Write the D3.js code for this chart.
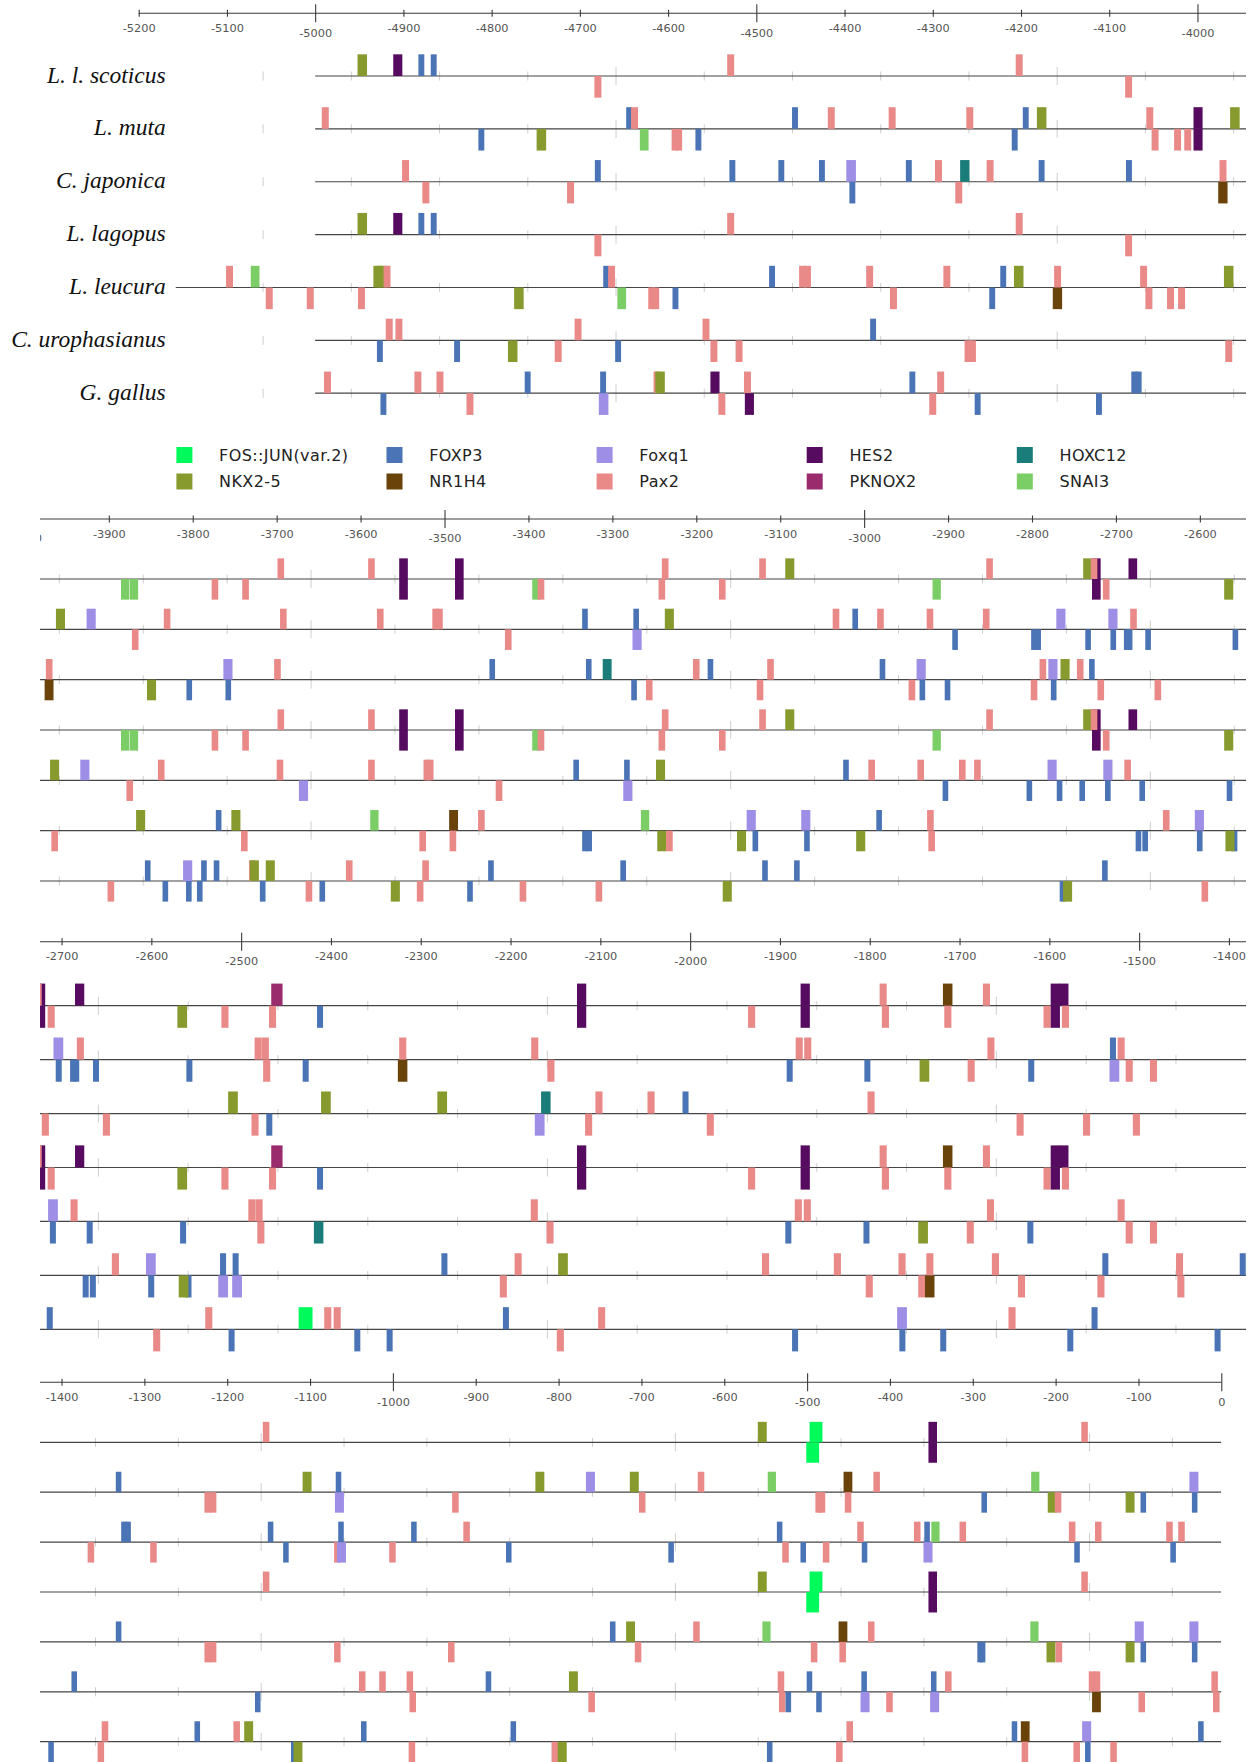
<!DOCTYPE html>
<html>
<head>
<meta charset="utf-8">
<script src="https://cdn.jsdelivr.net/npm/d3@7"></script>
<style>
  html, body { margin: 0; padding: 0; background: #ffffff; }
  svg { display: block; }
</style>
</head>
<body>
<svg id="chart" width="1255" height="1762"></svg>
<script>
// ---- data -----------------------------------------------------------------
const species = ["L. l. scoticus", "L. muta", "C. japonica", "L. lagopus",
                 "L. leucura", "C. urophasianus", "G. gallus"];

// legend order (column by column)
const factors = ["FOS::JUN(var.2)", "NKX2-5", "FOXP3", "NR1H4", "Foxq1",
                 "Pax2", "HES2", "PKNOX2", "HOXC12", "SNAI3"];
const factorCodes = ["J", "N", "F", "R", "Q", "P", "H", "K", "T", "S"];
const factorColors = ["#00fa5c", "#869a2e", "#4a74b6", "#6a430b", "#9e8ee6",
                      "#e98a89", "#560a60", "#9a2b6d", "#1b7d79", "#7bcd66"];
// motif length in bp
const motifLength = [15.5, 10.8, 6.7, 10.6, 10.9, 7.9, 10.3, 12.6, 10.6, 9.9];

// first aligned base of each upstream sequence
const sequenceStart = [-5000, -5000, -5000, -5000, -5158, -5000, -5000];

// the upstream region is wrapped over four rows
const rowWindows = [[-5200, -3945], [-3982, -2545], [-2724, -1381], [-1426, 0]];

// binding sites: [start (bp), factor code, strand (+1 above / -1 below)]
const scoticusSites = [
  [-4952, "N", 1], [-4911.5, "H", 1], [-4883, "F", 1], [-4869, "F", 1], [-4683.5, "P", -1],
  [-4533, "P", 1], [-4206, "P", 1], [-4082, "P", -1],
  [-3885.5, "S", -1], [-3875, "S", -1], [-3777.5, "P", -1], [-3741, "P", -1], [-3699, "P", 1],
  [-3591, "P", 1], [-3554, "H", 1], [-3554, "H", -1], [-3487.5, "H", 1], [-3487.5, "H", -1],
  [-3395.5, "S", -1], [-3389, "P", -1], [-3245, "P", -1], [-3241, "P", 1], [-3173, "P", -1],
  [-3125, "P", 1], [-3094, "N", 1], [-2918.5, "S", -1], [-2854.5, "P", 1], [-2739, "N", 1],
  [-2728.5, "H", 1], [-2728.5, "H", -1], [-2730, "P", 1], [-2715.5, "P", -1], [-2685, "H", 1],
  [-2571, "N", -1],
  [-2522, "P", -1], [-2469, "P", -1], [-2466.5, "K", 1], [-2415.5, "F", -1], [-2126, "H", 1],
  [-2126, "H", -1], [-1935.5, "P", -1], [-1877, "H", 1], [-1877, "H", -1], [-1789, "P", 1],
  [-1786.5, "P", -1], [-1718.5, "R", 1], [-1717, "P", -1], [-1674, "P", 1], [-1606.5, "P", -1],
  [-1598.5, "H", 1], [-1589, "H", 1], [-1598.5, "H", -1], [-1586, "P", -1],
  [-1157, "P", 1], [-559.5, "N", 1], [-497, "J", 1], [-501, "J", -1], [-353.5, "H", 1],
  [-353.5, "H", -1], [-169, "P", 1]
];

const mutaSites = [
  [-4992.5, "P", 1], [-4815, "F", -1], [-4749, "N", -1], [-4647.5, "F", 1], [-4642, "P", 1],
  [-4632, "S", -1], [-4596, "P", -1], [-4592, "P", -1], [-4569, "F", -1], [-4459.5, "F", 1],
  [-4419, "P", 1], [-4350, "P", 1], [-4262, "P", 1], [-4210.5, "F", -1], [-4198, "F", 1],
  [-4182, "N", 1], [-4058, "P", 1], [-4052, "P", -1], [-4026.5, "P", -1], [-4015, "P", -1],
  [-4004.5, "H", 1], [-4004.5, "H", -1], [-3963, "N", 1],
  [-3926.5, "Q", 1], [-3872.5, "P", -1], [-3834.5, "P", 1], [-3696, "P", 1], [-3580.5, "P", 1],
  [-3514.5, "P", 1], [-3510, "P", 1], [-3428, "P", -1], [-3336, "F", 1], [-3276, "Q", -1],
  [-3275, "F", 1], [-3237.5, "N", 1], [-3037.5, "P", 1], [-3014, "F", 1], [-2984.5, "P", 1],
  [-2925.5, "P", 1], [-2895, "F", -1], [-2858.5, "P", 1], [-2801, "F", -1], [-2796, "F", -1],
  [-2771, "Q", 1], [-2736.5, "F", -1], [-2709, "Q", 1], [-2706.5, "F", -1], [-2690.5, "F", -1],
  [-2687, "F", -1], [-2683, "P", 1], [-2665, "F", -1], [-2561, "F", -1],
  [-2485, "P", 1], [-2477, "P", 1], [-2475.5, "P", -1], [-2431.5, "F", -1], [-2325.5, "R", -1],
  [-2324, "P", 1], [-2177, "P", 1], [-2159, "P", -1], [-1892.5, "F", -1], [-1882.5, "P", 1],
  [-1873, "P", 1], [-1806, "F", -1], [-1744.5, "N", -1], [-1691, "P", -1], [-1669, "P", 1],
  [-1623.5, "F", -1], [-1533, "Q", -1], [-1532.5, "F", 1], [-1524, "P", 1], [-1515, "P", -1],
  [-1488, "P", -1],
  [-1334.5, "F", 1], [-1227.5, "P", -1], [-1221, "P", -1], [-1109, "N", 1], [-1070, "Q", -1],
  [-1069, "F", 1], [-928.5, "P", -1], [-828, "N", 1], [-767, "Q", 1], [-714, "N", 1],
  [-703, "P", -1], [-632, "P", 1], [-547.5, "S", 1], [-490, "P", -1], [-486, "P", -1],
  [-456, "R", 1], [-454.5, "P", -1], [-420, "P", 1], [-289.5, "F", -1], [-229.5, "S", 1],
  [-209.5, "N", -1], [-201, "P", -1], [-115.5, "N", -1], [-97.5, "F", -1], [-38.5, "Q", 1],
  [-35.5, "F", -1]
];

const japonicaSites = [
  [-4901.5, "P", 1], [-4878.5, "P", -1], [-4714.5, "P", -1], [-4683, "F", 1], [-4530.5, "F", 1],
  [-4475, "F", 1], [-4429, "F", 1], [-4398, "Q", 1], [-4394.5, "F", -1], [-4330.5, "F", 1],
  [-4297.5, "P", 1], [-4274.5, "P", -1], [-4269, "T", 1], [-4239, "P", 1], [-4180, "F", 1],
  [-4081, "F", 1], [-3975, "P", 1], [-3976.5, "R", -1],
  [-3854.5, "N", -1], [-3807.5, "F", -1], [-3763.5, "Q", 1], [-3761, "F", -1], [-3703, "P", 1],
  [-3446.5, "F", 1], [-3331.5, "F", 1], [-3311.5, "T", 1], [-3277.5, "F", -1], [-3260, "P", -1],
  [-3204, "P", 1], [-3186.5, "F", 1], [-3128, "P", -1], [-3115.5, "P", 1], [-2981.5, "F", 1],
  [-2947, "P", -1], [-2937.5, "Q", 1], [-2934, "F", -1], [-2904, "F", -1], [-2801.5, "P", -1],
  [-2791, "P", 1], [-2780.5, "Q", 1], [-2777.5, "F", -1], [-2766, "N", 1], [-2746.5, "P", 1],
  [-2732, "F", 1], [-2722, "P", -1], [-2654, "P", -1],
  [-2514.5, "N", 1], [-2488.5, "P", -1], [-2472, "F", -1], [-2411, "N", 1], [-2281.5, "N", 1],
  [-2173, "Q", -1], [-2166, "T", 1], [-2117, "P", -1], [-2105.5, "P", 1], [-2047.5, "P", 1],
  [-2008.5, "F", 1], [-1981.5, "P", -1], [-1802.5, "P", 1], [-1636.5, "P", -1], [-1562.5, "P", -1],
  [-1507, "P", -1],
  [-1368.5, "P", -1], [-1328, "F", 1], [-1323, "F", 1], [-1293, "P", -1], [-1151, "F", 1],
  [-1132.5, "F", -1], [-1071, "P", -1], [-1067.5, "Q", -1], [-1066, "F", 1], [-1004.5, "P", -1],
  [-978, "F", 1], [-915, "P", 1], [-863.5, "F", -1], [-667.5, "F", -1], [-536.5, "F", 1],
  [-530, "P", -1], [-508, "F", -1], [-481, "P", -1], [-439.5, "P", 1], [-434, "F", -1],
  [-371, "P", 1], [-359.5, "Q", -1], [-358.5, "F", 1], [-350, "S", 1], [-316, "P", 1],
  [-184, "P", 1], [-177.5, "F", -1], [-152.5, "P", 1], [-66.5, "P", 1], [-61.5, "F", -1],
  [-52, "P", 1]
];

const lagopusSites = [
  [-4952, "N", 1], [-4911.5, "H", 1], [-4883, "F", 1], [-4869, "F", 1], [-4683.5, "P", -1],
  [-4533, "P", 1], [-4206, "P", 1], [-4082, "P", -1],
  [-3885.5, "S", -1], [-3875, "S", -1], [-3777.5, "P", -1], [-3741, "P", -1], [-3699, "P", 1],
  [-3591, "P", 1], [-3554, "H", 1], [-3554, "H", -1], [-3487.5, "H", 1], [-3487.5, "H", -1],
  [-3395.5, "S", -1], [-3389, "P", -1], [-3245, "P", -1], [-3241, "P", 1], [-3173, "P", -1],
  [-3125, "P", 1], [-3094, "N", 1], [-2918.5, "S", -1], [-2854.5, "P", 1], [-2739, "N", 1],
  [-2728.5, "H", 1], [-2728.5, "H", -1], [-2730, "P", 1], [-2715.5, "P", -1], [-2685, "H", 1],
  [-2571, "N", -1],
  [-2522, "P", -1], [-2469, "P", -1], [-2466.5, "K", 1], [-2415.5, "F", -1], [-2126, "H", 1],
  [-2126, "H", -1], [-1935.5, "P", -1], [-1877, "H", 1], [-1877, "H", -1], [-1789, "P", 1],
  [-1786.5, "P", -1], [-1718.5, "R", 1], [-1717, "P", -1], [-1674, "P", 1], [-1606.5, "P", -1],
  [-1598.5, "H", 1], [-1589, "H", 1], [-1598.5, "H", -1], [-1586, "P", -1],
  [-1157, "P", 1], [-559.5, "N", 1], [-497, "J", 1], [-501, "J", -1], [-353.5, "H", 1],
  [-353.5, "H", -1], [-169, "P", 1]
];

const leucuraSites = [
  [-5101, "P", 1], [-5073, "S", 1], [-5056, "P", -1], [-5009.5, "P", -1], [-4951.5, "P", -1],
  [-4934, "N", 1], [-4929.5, "N", 1], [-4922.5, "P", 1], [-4774.5, "N", -1], [-4673.5, "F", 1],
  [-4668, "P", 1], [-4657.5, "S", -1], [-4622.5, "P", -1], [-4618, "P", -1], [-4595, "F", -1],
  [-4485.5, "F", 1], [-4451.5, "P", 1], [-4446, "P", 1], [-4375.5, "P", 1], [-4348.5, "P", -1],
  [-4288, "P", 1], [-4236, "F", -1], [-4223.5, "F", 1], [-4208, "N", 1], [-4164, "R", -1],
  [-4162.5, "P", 1], [-4065, "P", 1], [-4059, "P", -1], [-4034.5, "P", -1], [-4022, "P", -1],
  [-3970, "N", 1],
  [-3934, "Q", 1], [-3879, "P", -1], [-3841.5, "P", 1], [-3700, "P", 1], [-3673.5, "Q", -1],
  [-3591, "P", 1], [-3525, "P", 1], [-3521, "P", 1], [-3439, "P", -1], [-3346.5, "F", 1],
  [-3287, "Q", -1], [-3286, "F", 1], [-3248, "N", 1], [-3025, "F", 1], [-2995, "P", 1],
  [-2936.5, "P", 1], [-2906.5, "F", -1], [-2887, "P", 1], [-2869, "P", 1], [-2806.5, "F", -1],
  [-2781.5, "Q", 1], [-2770.5, "F", -1], [-2743.5, "F", -1], [-2715, "Q", 1], [-2713, "F", -1],
  [-2690, "P", 1], [-2672, "F", -1], [-2568, "F", -1],
  [-2492, "P", 1], [-2484, "P", 1], [-2482, "P", -1], [-2419, "T", -1], [-2177.5, "P", 1],
  [-2160, "P", -1], [-1894, "F", -1], [-1883.5, "P", 1], [-1873.5, "P", 1], [-1807, "F", -1],
  [-1746, "N", -1], [-1692, "P", -1], [-1669.5, "P", 1], [-1624.5, "F", -1], [-1524, "P", 1],
  [-1515, "P", -1], [-1488, "P", -1],
  [-1334.5, "F", 1], [-1227.5, "P", -1], [-1221, "P", -1], [-1071, "P", -1], [-933.5, "P", -1],
  [-738, "F", 1], [-718.5, "N", 1], [-708, "P", -1], [-637.5, "P", 1], [-554, "S", 1],
  [-495.5, "P", -1], [-462, "R", 1], [-461, "P", -1], [-426.5, "P", 1], [-294.5, "F", -1],
  [-291.5, "F", -1], [-230.5, "S", 1], [-211, "N", -1], [-200, "P", -1], [-115.5, "N", -1],
  [-104.5, "Q", 1], [-97.5, "F", -1], [-38.5, "Q", 1], [-35.5, "F", -1]
];

const urophasianusSites = [
  [-4930, "F", -1], [-4920, "P", 1], [-4909, "P", 1], [-4842.5, "F", -1], [-4781.5, "N", -1],
  [-4728.5, "P", -1], [-4706, "P", 1], [-4660, "F", -1], [-4561, "P", 1], [-4552, "P", -1],
  [-4523.5, "P", -1], [-4371, "F", 1], [-4264, "P", -1], [-4259, "P", -1], [-3968.5, "P", -1],
  [-3867.5, "N", 1], [-3772.5, "F", 1], [-3754, "N", 1], [-3742.5, "P", -1], [-3588.5, "S", 1],
  [-3530, "P", -1], [-3494.5, "R", 1], [-3494, "P", -1], [-3460, "P", 1], [-3336, "F", -1],
  [-3331, "F", -1], [-3266, "S", 1], [-3246.5, "N", -1], [-3236, "P", -1], [-3151.5, "N", -1],
  [-3140, "Q", 1], [-3133, "F", -1], [-3075, "Q", 1], [-3071.5, "F", -1], [-3009.5, "N", -1],
  [-2985.5, "F", 1], [-2925, "P", 1], [-2923.5, "P", -1], [-2676.5, "F", -1], [-2668.5, "F", -1],
  [-2644, "P", 1], [-2606, "Q", 1], [-2603.5, "F", -1], [-2562, "F", -1], [-2569.5, "N", -1],
  [-2523.5, "F", 1], [-2525.5, "Q", -1], [-2509.5, "F", 1], [-2510, "Q", -1], [-2277, "F", 1],
  [-2212, "P", -1], [-2195.5, "P", 1], [-2147, "N", 1], [-1920, "P", 1], [-1840, "P", 1],
  [-1804.5, "P", -1], [-1768, "P", 1], [-1746, "P", -1], [-1738.5, "R", -1], [-1737, "P", 1],
  [-1664, "P", 1], [-1635, "P", -1], [-1546.5, "P", -1], [-1541, "F", 1], [-1459, "P", 1],
  [-1457.5, "P", -1], [-1388, "F", 1],
  [-1166.5, "F", -1], [-1041, "P", 1], [-1016.5, "P", 1], [-983.5, "P", 1], [-980, "P", -1],
  [-888, "F", 1], [-787.5, "N", 1], [-764, "P", -1], [-535.5, "P", 1], [-534, "P", -1],
  [-526, "F", -1], [-500.5, "F", 1], [-489, "F", -1], [-435.5, "Q", -1], [-434.5, "F", 1],
  [-404.5, "P", -1], [-351.5, "Q", -1], [-350.5, "F", 1], [-333.5, "P", 1], [-160, "P", 1],
  [-154, "P", 1], [-156, "R", -1], [-100, "P", -1], [-12, "P", 1], [-10, "P", -1]
];

const gallusSites = [
  [-4990, "P", 1], [-4926, "F", -1], [-4887.5, "P", 1], [-4862.5, "P", 1], [-4828.5, "P", -1],
  [-4762.5, "F", 1], [-4677, "F", 1], [-4678.5, "Q", -1], [-4616.5, "P", 1], [-4614.5, "N", 1],
  [-4552, "H", 1], [-4543, "P", -1], [-4514, "P", 1], [-4513, "H", -1], [-4326.5, "F", 1],
  [-4304, "P", -1], [-4295, "P", 1], [-4252.5, "F", -1], [-4115, "F", -1], [-4075, "F", 1],
  [-4070, "F", 1],
  [-3901.5, "P", -1], [-3857, "F", 1], [-3836, "F", -1], [-3811.5, "Q", 1], [-3808, "F", -1],
  [-3795, "F", -1], [-3790, "F", 1], [-3775, "F", 1], [-3733, "P", 1], [-3732, "N", 1],
  [-3720, "F", -1], [-3713, "N", 1], [-3665.5, "P", -1], [-3649, "F", -1], [-3617.5, "P", 1],
  [-3564, "N", -1], [-3533, "P", -1], [-3526.5, "P", 1], [-3473, "F", -1], [-3448, "F", 1],
  [-3410.5, "P", -1], [-3320, "P", -1], [-3290.5, "F", 1], [-3168.5, "N", -1], [-3121.5, "F", 1],
  [-3083.5, "F", 1], [-2767, "F", -1], [-2763, "N", -1], [-2716.5, "F", 1], [-2598, "P", -1],
  [-2540, "P", 1], [-2514, "F", -1], [-2436, "J", 1], [-2407.5, "P", 1], [-2397, "P", 1],
  [-2374, "F", -1], [-2338, "F", -1], [-2208.5, "F", 1], [-2148.5, "P", -1], [-2102.5, "P", 1],
  [-1886.5, "F", -1], [-1769.5, "Q", 1], [-1767, "F", -1], [-1721.5, "F", -1], [-1645.5, "P", 1],
  [-1580, "F", -1], [-1553, "F", 1], [-1416, "F", -1],
  [-1356.5, "P", -1], [-1351.5, "P", 1], [-1239.5, "F", 1], [-1192.5, "P", 1], [-1179.5, "N", 1],
  [-1123, "F", -1], [-1120, "N", -1], [-1038.5, "F", 1], [-981, "P", -1], [-858, "F", 1],
  [-808.5, "P", -1], [-801, "N", -1], [-548.5, "F", -1], [-465, "P", -1], [-452.5, "P", 1],
  [-253, "F", 1], [-242, "R", 1], [-241, "P", -1], [-178.5, "P", -1], [-168, "Q", 1],
  [-164.5, "F", -1], [-134, "P", -1], [-28, "F", 1]
];

const siteTable = [scoticusSites, mutaSites, japonicaSites, lagopusSites,
                   leucuraSites, urophasianusSites, gallusSites];

// ---- layout ---------------------------------------------------------------
const rows = [
  { x0: 138.7, x1: 1246,   axisY: 13.3,   trackY0: 76,     step: 52.87 },
  { x0: 40,    x1: 1246,   axisY: 519,    trackY0: 579,    step: 50.33 },
  { x0: 40,    x1: 1246,   axisY: 941.7,  trackY0: 1005.7, step: 53.93 },
  { x0: 40,    x1: 1221.3, axisY: 1382.3, trackY0: 1442.3, step: 49.9 }
];
const legendLayout = { x0: 176.4, colStep: 210.1, y0: 447, rowStep: 26.5, box: 16, textDx: 42.7 };
const labelRight = 165.7;

const colorOf = {}, lengthOf = {};
factorCodes.forEach((c, i) => { colorOf[c] = factorColors[i]; lengthOf[c] = motifLength[i]; });

// ruler marks carried along every sequence (every 100 bp)
const seqTicks = d3.range(-59, -5100, -100);

const svg = d3.select("#chart");
const defs = svg.append("defs");

rows.forEach((row, ri) => {
  const dom = rowWindows[ri];
  const x = d3.scaleLinear().domain(dom).range([row.x0, row.x1]);
  const g = svg.append("g").attr("class", "row");

  // clip regions (axis clip is in the axis group's own coordinates)
  defs.append("clipPath").attr("id", "axisclip" + ri)
    .append("rect").attr("x", 40).attr("y", -20)
    .attr("width", 1215).attr("height", 50);
  defs.append("clipPath").attr("id", "trackclip" + ri)
    .append("rect").attr("x", row.x0).attr("y", row.axisY + 20)
    .attr("width", row.x1 - row.x0).attr("height", row.step * 8);

  // ---- position axis ----
  const tickVals = d3.range(Math.floor(dom[0] / 100) * 100, dom[1] + 1, 100)
    .filter(t => t >= dom[0] || x(t) + 16 > 40);
  const axis = d3.axisBottom(x)
    .tickValues(tickVals)
    .tickSizeInner(3.5)
    .tickSizeOuter(0)
    .tickFormat(d => String(d));
  const ag = g.append("g")
    .attr("transform", `translate(0,${row.axisY})`)
    .attr("clip-path", `url(#axisclip${ri})`)
    .call(axis);
  ag.select(".domain")
    .attr("d", `M${row.x0},0H${row.x1}`)
    .attr("stroke", "#3a3a3a").attr("stroke-width", 1.1);
  ag.selectAll(".tick line")
    .attr("stroke", "#3a3a3a").attr("stroke-width", 1.1)
    .attr("y1", d => d % 500 === 0 ? -9 : -3.5)
    .attr("y2", d => d % 500 === 0 ? 9 : 3.5);
  ag.selectAll(".tick text")
    .attr("dy", null)
    .attr("y", d => d % 500 === 0 ? 23.3 : 18.7)
    .attr("fill", "#555")
    .attr("font-family", "'DejaVu Sans', sans-serif")
    .attr("font-size", 11.3);

  // ---- tracks ----
  const tg = g.append("g").attr("clip-path", `url(#trackclip${ri})`);
  const markH = row.step * 0.41;
  const visTicks = seqTicks.filter(t => t >= dom[0] && t <= dom[1]);

  species.forEach((sp, si) => {
    const y = row.trackY0 + si * row.step;
    const trk = tg.append("g").attr("class", "track");

    trk.selectAll("line.rule").data(visTicks).join("line")
      .attr("class", "rule")
      .attr("x1", d => x(d)).attr("x2", d => x(d))
      .attr("y1", d => y - ((d + 159) % 500 === 0 ? 9 : 4.5))
      .attr("y2", d => y + ((d + 159) % 500 === 0 ? 9 : 4.5))
      .attr("stroke", "#cfcfcf").attr("stroke-width", 1);

    const lineStart = Math.max(dom[0], sequenceStart[si]);
    trk.append("line")
      .attr("x1", x(lineStart)).attr("x2", x(dom[1]))
      .attr("y1", y).attr("y2", y)
      .attr("stroke", "#454545").attr("stroke-width", 1.2);

    const sites = siteTable[si].filter(s =>
      s[0] + lengthOf[s[1]] >= dom[0] && s[0] <= dom[1]);
    trk.selectAll("rect.site").data(sites).join("rect")
      .attr("class", "site")
      .attr("x", d => x(d[0]))
      .attr("width", d => x(d[0] + lengthOf[d[1]]) - x(d[0]))
      .attr("y", d => d[2] > 0 ? y - markH : y)
      .attr("height", markH)
      .attr("fill", d => colorOf[d[1]]);

    if (ri === 0) {
      g.append("text")
        .attr("x", labelRight).attr("y", y + 6.5)
        .attr("text-anchor", "end")
        .attr("font-family", "'Liberation Serif', 'Times New Roman', serif")
        .attr("font-style", "italic")
        .attr("font-size", 23.5)
        .attr("fill", "#111")
        .text(sp);
    }
  });
});

// ---- legend ----
const lg = svg.append("g").attr("class", "legend");
factors.forEach((f, i) => {
  const col = Math.floor(i / 2), r = i % 2;
  const lx = legendLayout.x0 + col * legendLayout.colStep;
  const ly = legendLayout.y0 + r * legendLayout.rowStep;
  lg.append("rect")
    .attr("x", lx).attr("y", ly)
    .attr("width", legendLayout.box).attr("height", legendLayout.box)
    .attr("fill", factorColors[i]);
  lg.append("text")
    .attr("x", lx + legendLayout.textDx).attr("y", ly + legendLayout.box / 2)
    .attr("dy", "0.35em")
    .attr("font-family", "'DejaVu Sans', sans-serif")
    .attr("font-size", 16)
    .attr("letter-spacing", 0.4)
    .attr("fill", "#222")
    .text(f);
});
</script>
</body>
</html>
